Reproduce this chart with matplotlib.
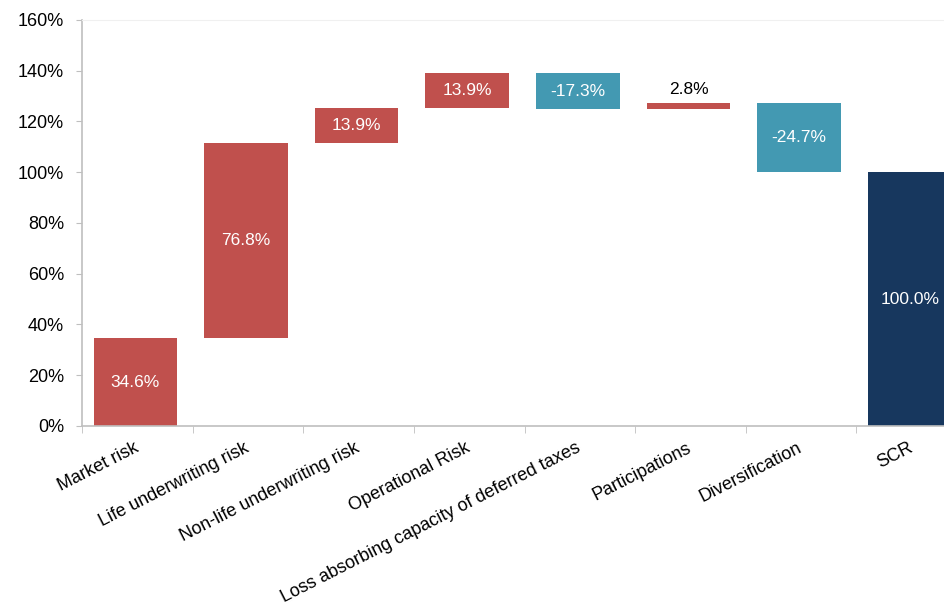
import numpy as np
import matplotlib.pyplot as plt
from matplotlib.ticker import FuncFormatter

categories = ['Market risk', 'Life underwriting risk', 'Non-life underwriting risk',
              'Operational Risk', 'Loss absorbing capacity of deferred taxes',
              'Participations', 'Diversification', 'SCR']
# bar heights as drawn in the picture (labels below are the printed values)
steps = [34.6, 76.8, 13.9, 13.9, -14.4, 2.5, -27.3]
total = 100.0
labels = ['34.6%', '76.8%', '13.9%', '13.9%', '-17.3%', '2.8%', '-24.7%', '100.0%']

red = '#C0504D'
teal = '#4399B2'
navy = '#17375E'

plt.rcParams['font.family'] = ['Liberation Sans', 'DejaVu Sans']

fig = plt.figure(figsize=(9.44, 6.05), dpi=100)
ax = fig.add_axes([82/944, 179/605, 885/944, 406/605])

cum = np.concatenate([[0], np.cumsum(steps)])
x = np.arange(len(categories))
bottoms = []
heights = []
colors = []
for i, s in enumerate(steps):
    if s >= 0:
        bottoms.append(cum[i]); heights.append(s); colors.append(red)
    else:
        bottoms.append(cum[i + 1]); heights.append(-s); colors.append(teal)
bottoms.append(0); heights.append(total); colors.append(navy)

# excel style: bars sit slightly left of the category centre
ax.bar(x - 0.5 + 0.105, heights, bottom=bottoms, width=0.755, align='edge',
       color=colors, zorder=2)
xc = x - 0.5 + 0.105 + 0.755 / 2

for i in range(len(categories)):
    mid = bottoms[i] + heights[i] / 2
    if heights[i] < 5:
        ax.text(xc[i], bottoms[i] + heights[i] + 2.5, labels[i], ha='center', va='bottom',
                fontsize=12.5, color='black')
    else:
        ax.text(xc[i], mid, labels[i], ha='center', va='center', fontsize=12.5, color='white')

ax.set_xlim(-0.5, 7.5)
ax.set_ylim(0, 160)
ax.set_yticks(np.arange(0, 161, 20))
ax.yaxis.set_major_formatter(FuncFormatter(lambda v, p: '%d%%' % v))
ax.tick_params(axis='y', labelsize=13, length=4, color='#BFBFBF', pad=9)

ax.set_xticks(x)
ax.set_xticklabels(categories, rotation=27, ha='right', va='center',
                   rotation_mode='anchor', fontsize=13)
ax.tick_params(axis='x', which='major', length=0, pad=15)
ax.set_xticks(np.arange(-0.5, 8, 1), minor=True)
ax.tick_params(axis='x', which='minor', length=5, color='#BFBFBF')

for side in ['left', 'bottom']:
    ax.spines[side].set_color('#BFBFBF')
    ax.spines[side].set_linewidth(1.2)
ax.spines['top'].set_color('#F0F0F0')
ax.spines['right'].set_visible(False)

fig.savefig('out.png', dpi=100)
